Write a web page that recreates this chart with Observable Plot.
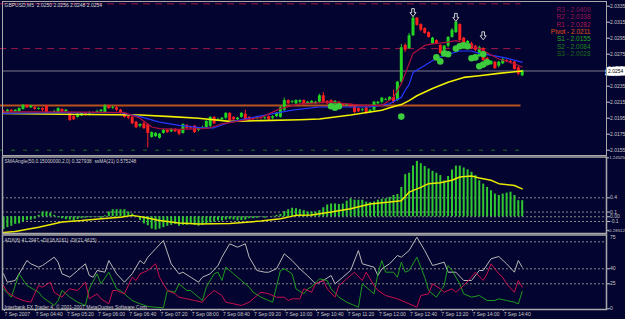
<!DOCTYPE html>
<html><head><meta charset="utf-8">
<script src="https://cdn.jsdelivr.net/npm/d3@7"></script>
<script src="https://cdn.jsdelivr.net/npm/@observablehq/plot@0.6"></script>
<style>
html,body{margin:0;padding:0;background:#040430;}
#chart{position:relative;width:625px;height:319px;background:#040430;overflow:hidden;}
#chart svg{position:absolute;left:0;}
</style></head><body><div id="chart"></div>
<script>
// ---------- data: GBPUSD M5 candles (bar index 0 = 04:00) ----------
const openP = [2.0203,2.0202,2.0205,2.0203,2.0203,2.0206,2.0211,2.0208,2.0208,2.0206,
2.0207,2.0210,2.0202,2.0202,2.0201,2.0206,2.0203,2.0201,2.0197,2.0196,
2.0198,2.0201,2.0200,2.0202,2.0202,2.0203,2.0202,2.0210,2.0207,2.0208,
2.0205,2.0201,2.0197,2.0196,2.0190,2.0185,2.0188,2.0187,2.0171,2.0172,
2.0170,2.0176,2.0180,2.0178,2.0181,2.0180,2.0176,2.0186,2.0183,2.0185,
2.0180,2.0182,2.0183,2.0185,2.0196,2.0192,2.0193,2.0195,2.0201,2.0196,
2.0193,2.0196,2.0200,2.0196,2.0195,2.0195,2.0196,2.0195,2.0197,2.0195,
2.0197,2.0196,2.0205,2.0217,2.0215,2.0213,2.0215,2.0217,2.0213,2.0213,
2.0213,2.0215,2.0223,2.0216,2.0217,2.0212,2.0215,2.0212,2.0211,2.0212,
2.0210,2.0207,2.0205,2.0208,2.0202,2.0205,2.0213,2.0215,2.0217,2.0217,
2.0221,2.0217,2.0240,2.0286,2.0282,2.0298,2.0320,2.0312,2.0307,2.0302,
2.0288,2.0292,2.0286,2.0280,2.0285,2.0296,2.0302,2.0312,2.0295,2.0286,
2.0288,2.0285,2.0272,2.0282,2.0270,2.0262,2.0265,2.0260,2.0263,2.0267,
2.0266,2.0265,2.0258,2.0248];
const highP = [2.0205,2.0206,2.0206,2.0206,2.0208,2.0212,2.0212,2.0211,2.0210,2.0208,
2.0208,2.0211,2.0203,2.0205,2.0208,2.0207,2.0206,2.0202,2.0198,2.0201,
2.0202,2.0202,2.0203,2.0203,2.0205,2.0206,2.0212,2.0211,2.0210,2.0210,
2.0206,2.0202,2.0198,2.0197,2.0191,2.0188,2.0190,2.0188,2.0178,2.0177,
2.0176,2.0181,2.0181,2.0182,2.0182,2.0181,2.0188,2.0187,2.0185,2.0186,
2.0183,2.0185,2.0192,2.0197,2.0197,2.0195,2.0196,2.0202,2.0202,2.0197,
2.0196,2.0202,2.0205,2.0197,2.0196,2.0197,2.0197,2.0197,2.0198,2.0198,
2.0202,2.0210,2.0220,2.0218,2.0217,2.0218,2.0218,2.0218,2.0216,2.0217,
2.0216,2.0225,2.0227,2.0217,2.0218,2.0217,2.0216,2.0213,2.0213,2.0213,
2.0211,2.0208,2.0207,2.0210,2.0206,2.0216,2.0216,2.0221,2.0220,2.0222,
2.0230,2.0241,2.0287,2.0288,2.0301,2.0325,2.0321,2.0313,2.0308,2.0303,
2.0296,2.0293,2.0287,2.0286,2.0297,2.0307,2.0322,2.0313,2.0296,2.0292,
2.0290,2.0286,2.0285,2.0283,2.0271,2.0267,2.0266,2.0266,2.0270,2.0268,
2.0267,2.0266,2.0260,2.0255];
const lowP = [2.0201,2.0201,2.0202,2.0202,2.0202,2.0205,2.0207,2.0207,2.0205,2.0205,
2.0203,2.0200,2.0201,2.0201,2.0200,2.0202,2.0202,2.0191,2.0192,2.0195,
2.0197,2.0198,2.0198,2.0200,2.0201,2.0202,2.0201,2.0206,2.0206,2.0203,
2.0200,2.0195,2.0193,2.0187,2.0182,2.0183,2.0181,2.0158,2.0170,2.0171,
2.0169,2.0175,2.0176,2.0177,2.0177,2.0173,2.0175,2.0181,2.0181,2.0176,
2.0178,2.0181,2.0182,2.0183,2.0187,2.0191,2.0192,2.0193,2.0191,2.0192,
2.0192,2.0195,2.0192,2.0191,2.0192,2.0193,2.0193,2.0193,2.0192,2.0193,
2.0196,2.0195,2.0203,2.0212,2.0213,2.0212,2.0213,2.0211,2.0212,2.0212,
2.0212,2.0213,2.0213,2.0212,2.0212,2.0211,2.0207,2.0210,2.0210,2.0208,
2.0201,2.0202,2.0203,2.0200,2.0201,2.0203,2.0212,2.0213,2.0217,2.0216,
2.0213,2.0216,2.0238,2.0277,2.0281,2.0297,2.0310,2.0303,2.0300,2.0295,
2.0287,2.0287,2.0275,2.0278,2.0283,2.0295,2.0301,2.0291,2.0287,2.0285,
2.0281,2.0278,2.0271,2.0266,2.0260,2.0261,2.0256,2.0258,2.0262,2.0265,
2.0263,2.0255,2.0248,2.0247];
const closeP = [2.0202,2.0205,2.0203,2.0205,2.0207,2.0211,2.0208,2.0210,2.0206,2.0207,
2.0205,2.0201,2.0202,2.0203,2.0207,2.0203,2.0205,2.0192,2.0193,2.0200,
2.0201,2.0200,2.0202,2.0201,2.0203,2.0205,2.0210,2.0207,2.0208,2.0205,
2.0201,2.0196,2.0195,2.0188,2.0183,2.0187,2.0182,2.0176,2.0177,2.0176,
2.0175,2.0180,2.0177,2.0181,2.0178,2.0175,2.0187,2.0182,2.0182,2.0177,
2.0182,2.0183,2.0191,2.0196,2.0188,2.0193,2.0195,2.0201,2.0192,2.0193,
2.0195,2.0201,2.0193,2.0192,2.0193,2.0196,2.0195,2.0196,2.0193,2.0197,
2.0201,2.0208,2.0217,2.0213,2.0216,2.0217,2.0217,2.0212,2.0215,2.0216,
2.0215,2.0223,2.0215,2.0213,2.0213,2.0216,2.0208,2.0211,2.0212,2.0210,
2.0202,2.0203,2.0206,2.0201,2.0205,2.0215,2.0215,2.0220,2.0218,2.0221,
2.0215,2.0240,2.0283,2.0280,2.0298,2.0320,2.0311,2.0305,2.0301,2.0296,
2.0295,2.0288,2.0276,2.0285,2.0296,2.0305,2.0315,2.0292,2.0288,2.0291,
2.0282,2.0280,2.0283,2.0267,2.0261,2.0266,2.0257,2.0265,2.0268,2.0266,
2.0265,2.0256,2.0250,2.0254];

// moving averages (bar index, price)
const yellowIdx = [0,15,35,43,50,58,66,76,81,89,97,99,102,104,106,110,114,118,122,127,131,133];
const yellowVal = [2.0201,2.0200,2.0199,2.0197,2.0195,2.0191,2.0192,2.0193,2.0194,2.0199,2.0205,2.0208,2.0212,2.0217,2.0223,2.0232,2.0240,2.0246,2.0248,2.0251,2.0253,2.0254];
const blueIdx = [0,15,30,35,40,45,51,54,58,66,74,81,89,94,99,102,103,104,105,108,111,114,117,120,122,126,129,133];
const blueVal = [2.0201,2.0202,2.0202,2.0197,2.0190,2.0186,2.0183,2.0183,2.0190,2.0198,2.0205,2.0209,2.0209,2.0209,2.0213,2.0221,2.0230,2.0237,2.0252,2.0261,2.0270,2.0275,2.0279,2.0279,2.0276,2.0273,2.0270,2.0265];
const crimsonIdx = [0,15,31,35,38,40,45,51,53,56,61,66,71,76,84,92,97,100,102,104,105,108,110,114,116,119,122,127,131,133];
const crimsonVal = [2.0203,2.0203,2.0202,2.0195,2.0184,2.0182,2.0181,2.0182,2.0183,2.0188,2.0192,2.0196,2.0207,2.0213,2.0215,2.0211,2.0211,2.0221,2.0238,2.0263,2.0276,2.0286,2.0288,2.0290,2.0292,2.0288,2.0282,2.0269,2.0263,2.0259];

// signal dots and arrows
const dotIdx = [102,84,85,86,111,112,113,114,116,117,118,119,120,121,122,123,123,124];
const dotPrice = [2.0197,2.0210,2.0208,2.0210,2.0271,2.0266,2.0276,2.0275,2.0282,2.0285,2.0286,2.0285,2.0270,2.0271,2.0260,2.0262,2.0275,2.0265];
const arrowIdx = [105,116,123];
const arrowPrice = [2.0327,2.0321,2.0298];

// pivot levels
const pivotNames = ["R3","R2","R1","Pivot","S1","S2","S3"];
const pivotValues = [2.0409,2.0338,2.0282,2.0211,2.0155,2.0084,2.0028];

// axis ticks
const priceTicks = [2.0155,2.0175,2.0195,2.0215,2.0235,2.0275,2.0295,2.0315,2.0335];
const titleText = "GBPUSD,M5  2.0250 2.0256 2.0248 2.0254";

// SMAAngle histogram and its MA
const hist = [-0.27,-0.23,-0.2,-0.16,-0.15,-0.11,-0.08,-0.07,-0.05,0.03,
0.1,0.1,0.08,0.03,-0.02,-0.04,-0.06,-0.07,-0.09,-0.06,
-0.04,-0.03,-0.02,-0.01,-0.01,-0.03,0.02,0.1,0.15,0.15,
0.15,0.15,0.1,0.06,-0.01,-0.08,-0.15,-0.19,-0.26,-0.28,
-0.26,-0.23,-0.2,-0.18,-0.16,-0.2,-0.18,-0.18,-0.16,-0.18,
-0.2,-0.18,-0.16,-0.13,-0.11,-0.09,-0.09,-0.07,-0.06,-0.07,
-0.09,-0.08,-0.07,-0.04,-0.04,-0.03,-0.01,-0.03,0,0.01,
0.03,0.05,0.11,0.15,0.18,0.17,0.15,0.13,0.1,0.1,
0.1,0.13,0.19,0.25,0.27,0.27,0.26,0.27,0.33,0.38,
0.35,0.35,0.35,0.31,0.3,0.31,0.35,0.37,0.38,0.41,
0.45,0.47,0.62,0.89,0.92,1.07,1.17,1.12,1.06,1.01,
0.96,0.92,0.87,0.76,0.85,0.99,1.07,1.07,1.03,0.99,
0.94,0.87,0.76,0.69,0.62,0.55,0.48,0.45,0.48,0.5,
0.52,0.45,0.34,0.34];
const sigIdx = [0,3,9,15,20,25,30,33,36,40,45,50,58,66,71,75,79,84,89,94,99,102,104,107,109,112,115,117,120,122,125,127,131,133];
const sigVal = [-0.33,-0.31,-0.22,-0.11,-0.08,-0.04,-0.01,0.03,-0.01,-0.08,-0.13,-0.15,-0.14,-0.09,-0.04,0.03,0.04,0.1,0.17,0.27,0.31,0.34,0.52,0.62,0.7,0.72,0.77,0.84,0.86,0.82,0.77,0.7,0.66,0.59];
const p2Ticks = [0.4,0.1,0,-0.1];
const p2TickText = ["0.4","0.1","0.00","-0.1"];
const p2EdgeTicks = [1.24525,-0.28512];
const p2EdgeText = ["1.24525","-0.28512"];
const p2Levels = [0.4,0.1,0,-0.1];
const p2Title = "SMAAngle(50,0.15000000,2,0) 0.327938  ssMA(21) 0.575248";

// ADX
const adxIdx = [0,1,3,6,7,9,10,13,14,15,17,19,21,22,23,24,26,27,29,31,33,35,36,37,39,41,43,45,46,48,50,51,53,55,56,58,60,62,63,65,67,68,70,72,74,76,78,80,82,84,85,87,89,91,92,95,96,97,99,101,102,104,106,108,110,113,114,116,118,120,122,123,125,127,129,131,132,133];
const adxVal = [35,26.6,28.3,48.3,45,41.6,43.3,51.6,46.6,35,31.6,38.3,45,33.3,31.6,38.3,36.6,48.3,35,26.6,35,48.3,45,51.6,60,68.3,45,35,36.6,31.6,26.6,31.6,35,43.3,51.6,65,61.6,65,51.6,38.3,36.6,36.6,40,55,48.3,40,33,25,28.3,33.3,25,31.6,38.3,58.3,45,41.6,33.3,40,45,53.3,51.6,58.3,71.6,58.3,43.3,46.6,36.6,36.6,28.3,28.3,38.3,38.3,50,52.3,45,36.6,48.3,41.6];
const pdiIdx = [0,2,4,6,9,10,13,14,15,17,19,21,22,24,25,27,29,30,32,33,35,37,39,41,42,44,45,47,48,51,52,54,55,56,57,59,61,63,64,66,68,69,71,72,74,75,77,78,79,81,83,84,86,88,91,92,95,96,97,98,100,101,102,103,104,106,108,109,111,113,114,115,117,118,120,122,124,126,127,129,131,132,133];
const pdiVal = [20,11.6,35,23.3,16.6,11.6,3.3,8.3,18.3,11.6,6.6,3.3,20,35,25,36.6,20,18.3,11.6,8.3,5,2.3,1.6,1,18.3,16.6,25,18.3,18.3,8.3,21.6,35,36.6,28.3,41.6,35,28.3,21.6,16.6,11.6,8.3,6.6,38.3,40,35,20,15,20,22,30,28.3,20,11.6,6.6,1.6,25,15,35,48.3,36.6,36.6,31.6,46.6,36.6,38.3,51.6,31.6,18.3,11.6,23.3,43.3,38.3,25,15,11.6,13.3,8.3,8.3,10,8.3,6.6,5,17.3];
const mdiIdx = [0,1,3,5,7,9,10,12,13,15,16,17,19,21,22,24,25,27,28,29,31,33,34,35,37,39,40,42,44,45,47,49,51,52,54,56,57,59,61,63,65,66,68,70,72,73,74,76,77,79,80,82,83,85,86,88,90,92,93,95,96,98,101,104,106,107,109,110,112,113,115,116,118,120,121,123,124,125,127,128,129,131,132,133];
const mdiVal = [23.3,16.6,11.6,8.3,6.6,23.3,21.6,26.6,16.6,11.6,16.6,20,18.3,26.6,10,15,10,5,18.3,18.3,15,31.6,28.3,35,38.3,45,31.6,18.3,15,11.6,10,8.3,6.6,11.6,18.3,13.3,6.6,5,3.3,6.6,13.3,16.6,15,11.6,11.6,8.3,10,10,20,16.6,25,28.3,20,11.6,23.3,30,36.6,28.3,36.6,23.3,18.3,13.3,10,5,1.6,13.3,15,25,20,16.6,20,16.6,23.3,31.6,36.6,28.3,35,45,35,31.6,25,16.6,28.3,21.6];
const adxLevels = [25,40,67];
const adxTicks = [40,25,0];
const adxTopTick = [75];
const p3Title = "ADX(8) 41.2947 +DI(18.8161) -DI(21.4615)";
const copyright = "Interbank FX Trader 4, \u00A9 2001-2007 MetaQuotes Software Corp.";

// time axis
const timeIdx = [0,8,16,24,32,40,48,56,64,72,80,88,96,104,112,120,128];
const timeText = ["7 Sep 2007","7 Sep 04:40","7 Sep 05:20","7 Sep 06:00","7 Sep 06:40","7 Sep 07:20","7 Sep 08:00","7 Sep 08:40","7 Sep 09:20","7 Sep 10:00","7 Sep 10:40","7 Sep 11:20","7 Sep 12:00","7 Sep 12:40","7 Sep 13:20","7 Sep 14:00","7 Sep 14:40"];

// ---------- styles ----------
const UP = "#22d422", DOWN = "#ff2020";
const BG = "#040430";
const FONT = "Liberation Sans, Arial, sans-serif";
const AXC = "#c8c8c8";
const pivotColors = ["#8c1450","#a01450","#a8184e","#e2521a","#24a824","#1e861e","#186a18"];
const pivotLineStyle = {
  R2:{stroke:"#a0164a", strokeWidth:1, strokeDasharray:"7,5"},
  R1:{stroke:"#a0164a", strokeWidth:1, strokeDasharray:"7,5"},
  Pivot:{stroke:"#b8521c", strokeWidth:2},
  S1:{stroke:"#1e6a1e", strokeWidth:1, strokeDasharray:"4,8"}
};
const baseStyle = top => ({position:"absolute", top: top+"px", left:"0px", background:"transparent",
  color: AXC, fontSize:"5px", fontFamily: FONT, overflow:"visible"});

// hollow block "down" arrow symbol for the Plot.dot mark
const downArrow = {draw(ctx, size) {
  const s = Math.sqrt(size / Math.PI) / 4;
  ctx.moveTo(-1.3*s, -4*s); ctx.lineTo(1.3*s, -4*s); ctx.lineTo(1.3*s, 0);
  ctx.lineTo(3*s, 0); ctx.lineTo(0, 4*s); ctx.lineTo(-3*s, 0); ctx.lineTo(-1.3*s, 0);
  ctx.closePath();
}};

const W = 625;
const nBars = openP.length;
const xDomain = [0, nBars - 1];
const xRange = [3, 521.7];
const lastClose = closeP[nBars - 1];
const pts = (idx, val) => idx.map((i, k) => ({i, v: val[k]}));
const chart = document.getElementById("chart");

// ---------- panel 1: price ----------
const bars = openP.map((o, i) => ({i, o, h: highP[i], l: lowP[i], c: closeP[i]}));
const cc = d => d.c >= d.o ? UP : DOWN;
const pivots = pivotNames.map((n, k) => ({n, v: pivotValues[k]}));
const pivLines = pivots.filter(p => pivotLineStyle[p.n]).map(p =>
  Plot.ruleY([p.v], {x1: -1, x2: nBars - 1.3, ...pivotLineStyle[p.n]}));
const pivTexts = pivots.map((p, k) =>
  Plot.text([`${p.n} - ${p.v.toFixed(4)}`], {frameAnchor:"top-right", dx:-16, dy: 6 + 7.3*k,
    textAnchor:"end", fill: pivotColors[k], fontSize: 6.5, fontFamily: FONT}));

const p1 = Plot.plot({
  width: W, height: 156, marginLeft: 2, marginRight: 19, marginTop: 1, marginBottom: 1,
  x: {type:"linear", domain: xDomain, range: xRange, axis: null},
  y: {type:"linear", domain: [2.0155, 2.0335], range: [149.7, 5.7]},
  color: {type:"identity"},
  style: baseStyle(0),
  marks: [
    Plot.ruleY([lastClose], {stroke:"#7c7c8c", strokeWidth:1}),
    ...pivLines,
    Plot.ruleX(bars, {x:"i", y1:"l", y2:"h", stroke: cc, strokeWidth: 1}),
    Plot.ruleX(bars, {x:"i", y1:"o", y2:"c", stroke: cc, strokeWidth: 3}),
    Plot.line(pts(yellowIdx, yellowVal), {x:"i", y:"v", stroke:"#f0f000", strokeWidth:1.6}),
    Plot.line(pts(blueIdx, blueVal), {x:"i", y:"v", stroke:"#2438ff", strokeWidth:1.2}),
    Plot.line(pts(crimsonIdx, crimsonVal), {x:"i", y:"v", stroke:"#b0103e", strokeWidth:1.2}),
    Plot.dot(pts(dotIdx, dotPrice), {x:"i", y:"v", r:3.3, fill:"#3ccc3c", stroke:"none"}),
    Plot.dot(pts(arrowIdx, arrowPrice), {x:"i", y:"v", r:4, symbol: downArrow, fill: BG, stroke:"#d0d0d0", strokeWidth:1}),
    Plot.text([titleText], {frameAnchor:"top-left", dx: 2, dy: 2, textAnchor:"start", fill:"#d8d8d8", fontSize: 5, fontFamily: FONT}),
    ...pivTexts,
    Plot.axisY(priceTicks, {anchor:"right", tickSize: 3, tickPadding: 0.5, tickFormat: d => d.toFixed(4), fontSize: 5, label: null}),
    Plot.text([lastClose], {y: d => d, frameAnchor:"right", dx: 1.5, textAnchor:"start", text: d => d.toFixed(4),
      fill:"#000000", stroke:"#ffffff", strokeWidth: 5, strokeLinejoin:"miter", paintOrder:"stroke", fontSize: 5, fontFamily: FONT}),
    Plot.frame({stroke:"#a8a8a8", strokeWidth: 1})
  ]
});
chart.appendChild(p1);

// ---------- panel 2: SMAAngle ----------
const tickMap2 = new Map(p2Ticks.map((t, k) => [t, p2TickText[k]]));
const edgeMap2 = new Map(p2EdgeTicks.map((t, k) => [t, p2EdgeText[k]]));
const p2 = Plot.plot({
  width: W, height: 79, marginLeft: 2, marginRight: 19, marginTop: 1.5, marginBottom: 1,
  x: {type:"linear", domain: xDomain, range: xRange, axis: null},
  y: {type:"linear", domain: [-0.28512, 1.24525], range: [74.8, 2.3]},
  style: baseStyle(155),
  marks: [
    Plot.ruleY(p2Levels, {stroke:"#8a8a8a", strokeWidth: 1, strokeDasharray:"2,2"}),
    Plot.ruleX(hist, {x: (d, i) => i, y1: 0, y2: d => d, stroke:"#30c830", strokeWidth: 2}),
    Plot.line(pts(sigIdx, sigVal), {x:"i", y:"v", stroke:"#e8e800", strokeWidth: 1.5}),
    Plot.text([p2Title], {frameAnchor:"top-left", dx: 2, dy: 3, textAnchor:"start", fill:"#d0d0d0", fontSize: 4.8, fontFamily: FONT}),
    Plot.axisY(p2Ticks, {anchor:"right", tickSize: 3, tickPadding: 0.5, tickFormat: d => tickMap2.get(d), fontSize: 5, label: null}),
    Plot.axisY(p2EdgeTicks, {anchor:"right", tickSize: 2, tickFormat: () => "", label: null}),
    Plot.text(p2EdgeTicks, {y: d => d, frameAnchor:"right", dx: 18.5, textAnchor:"end", text: d => edgeMap2.get(d),
      fill: AXC, fontSize: 4.4, fontFamily: FONT}),
    Plot.frame({stroke:"#a8a8a8", strokeWidth: 1.5})
  ]
});
chart.appendChild(p2);

// ---------- panel 3: ADX + time axis ----------
const timeMap = new Map(timeIdx.map((t, k) => [t, timeText[k]]));
const p3 = Plot.plot({
  width: W, height: 85, marginLeft: 2, marginRight: 19, marginTop: 0.5, marginBottom: 10,
  x: {type:"linear", domain: xDomain, range: xRange},
  y: {type:"linear", domain: [0, 75], range: [74.3, -0.7]},
  style: baseStyle(234),
  marks: [
    Plot.ruleY(adxLevels, {stroke:"#8a8a8a", strokeWidth: 1, strokeDasharray:"2,2"}),
    Plot.line(pts(adxIdx, adxVal), {x:"i", y:"v", stroke:"#b8b8b8", strokeWidth: 1}),
    Plot.line(pts(pdiIdx, pdiVal), {x:"i", y:"v", stroke:"#1e9a1e", strokeWidth: 1}),
    Plot.line(pts(mdiIdx, mdiVal), {x:"i", y:"v", stroke:"#c8104c", strokeWidth: 1}),
    Plot.text([p3Title], {frameAnchor:"top-left", dx: 2, dy: 3.5, textAnchor:"start", fill:"#d0d0d0", fontSize: 4.8, fontFamily: FONT}),
    Plot.text([copyright], {frameAnchor:"bottom-left", dx: 2, dy: -1, textAnchor:"start", fill:"#d0d0d0", fontSize: 5, fontFamily: FONT}),
    Plot.axisY(adxTicks, {anchor:"right", tickSize: 3, tickPadding: 0.5, tickFormat: d => String(d), fontSize: 5, label: null}),
    Plot.axisY(adxTopTick, {anchor:"right", tickSize: 0, tickPadding: 3.5, dy: 4, tickFormat: d => String(d), fontSize: 5, label: null}),
    Plot.axisX(timeIdx, {anchor:"bottom", tickSize: 2, tickPadding: 1, tickFormat: d => timeMap.get(d), textAnchor:"start", dx: 1, fontSize: 5, label: null}),
    Plot.frame({stroke:"#a8a8a8", strokeWidth: 1.5})
  ]
});
chart.appendChild(p3);
</script>
</body></html>
